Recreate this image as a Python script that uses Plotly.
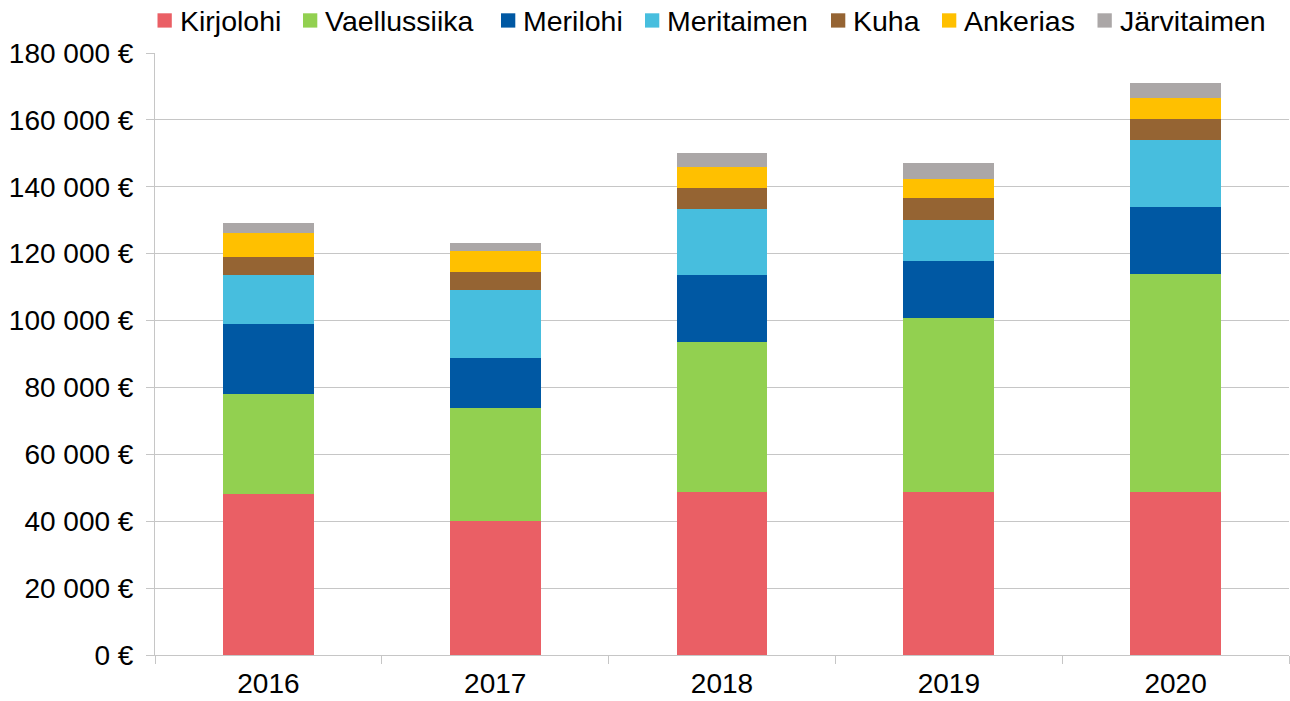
import plotly.graph_objects as go

years = ["2016", "2017", "2018", "2019", "2020"]
kirjolohi = [48200, 40200, 48700, 48700, 48700]
vaellussiika = [29800, 33700, 44900, 52100, 65300]
merilohi = [21000, 14900, 19900, 16900, 19900]
meritaimen = [14600, 20200, 20000, 12300, 20100]
kuha = [5500, 5400, 6000, 6600, 6400]
ankerias = [7000, 6500, 6300, 5800, 6200]
jarvitaimen = [3000, 2400, 4400, 4600, 4400]

series_names = ["Kirjolohi", "Vaellussiika", "Merilohi", "Meritaimen", "Kuha", "Ankerias", "Järvitaimen"]
series_values = [kirjolohi, vaellussiika, merilohi, meritaimen, kuha, ankerias, jarvitaimen]
colors = ["#EA5F65", "#92D050", "#0058A3", "#47BEDE", "#956433", "#FFC000", "#ABA7A7"]

tick_vals = [0, 20000, 40000, 60000, 80000, 100000, 120000, 140000, 160000, 180000]
tick_text = ["0 €", "20 000 €", "40 000 €", "60 000 €", "80 000 €", "100 000 €",
             "120 000 €", "140 000 €", "160 000 €", "180 000 €"]

FONT = "Liberation Sans, Arial, sans-serif"
W, H = 1290, 701
ML, MR, MT, MB = 155, 1, 53, 46
PW, PH = W - ML - MR, H - MT - MB

def px_x(px):
    return (px - ML) / PW

def px_y(py):
    return (H - MB - py) / PH

fig = go.Figure()
for name, vals, col in zip(series_names, series_values, colors):
    fig.add_trace(go.Bar(x=years, y=vals, name=name, showlegend=False,
                         marker=dict(color=col, line=dict(width=0))))

# custom legend (square + label) to mimic the reference spacing
legend_sq_x = [157.5, 303, 501, 645, 831, 942, 1097.5]
sq = 14.3
sq_top = 13.3
for name, col, sx in zip(series_names, colors, legend_sq_x):
    fig.add_shape(type="rect", xref="paper", yref="paper",
                  x0=px_x(sx), x1=px_x(sx + sq), y0=px_y(sq_top + sq), y1=px_y(sq_top),
                  fillcolor=col, line=dict(width=0), layer="above")
    fig.add_annotation(xref="paper", yref="paper", x=px_x(sx + sq + 6), y=px_y(sq_top + sq / 2 + 0.8),
                       xanchor="left", yanchor="middle", showarrow=False, text=name,
                       font=dict(family=FONT, size=28.5, color="black"))

fig.update_layout(
    barmode="stack",
    bargap=0.6,
    width=W, height=H,
    margin=dict(l=ML, r=MR, t=MT, b=MB),
    paper_bgcolor="white", plot_bgcolor="white",
    font=dict(family=FONT, size=28, color="black"),
    showlegend=False,
)
fig.update_xaxes(
    automargin=False,
    showline=True, linecolor="#c6c6c6", linewidth=1,
    ticks="outside", tickson="boundaries", ticklen=8, tickcolor="#c6c6c6",
    showgrid=False, tickfont=dict(size=28), ticklabelstandoff=3,
)
fig.update_yaxes(
    automargin=False,
    range=[0, 180000], tickvals=tick_vals, ticktext=tick_text,
    showline=True, linecolor="#c6c6c6", linewidth=1,
    ticks="outside", ticklen=8, tickcolor="#c6c6c6",
    showgrid=True, gridcolor="#c6c6c6", gridwidth=1,
    zeroline=False, tickfont=dict(size=28), ticklabelstandoff=7,
)

post = ("document.body.style.margin='0';document.body.style.padding='0';"
        "var gd=document.getElementById('{plot_id}');"
        "Plotly.relayout(gd,{width:1290,height:701});")
fig.write_html("out.html", post_script=post, config={"displayModeBar": False})
